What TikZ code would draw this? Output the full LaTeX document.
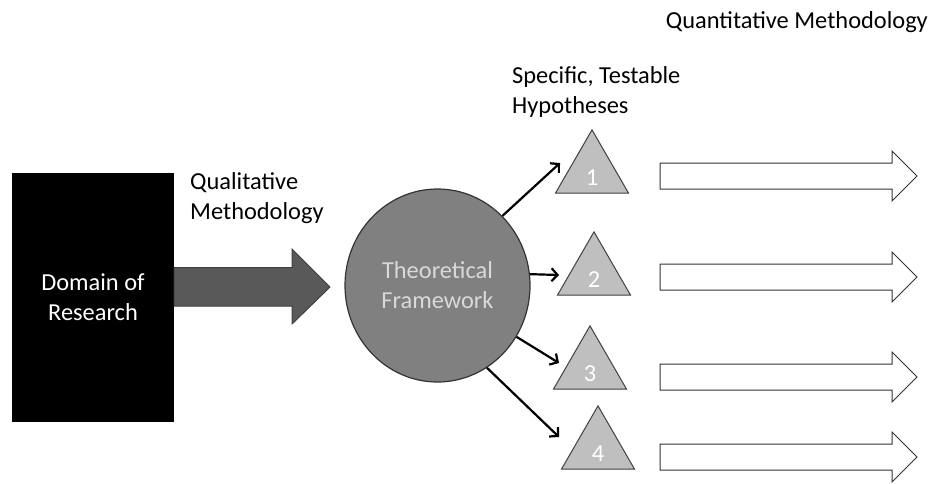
\documentclass[tikz,border=0pt]{standalone}
\usepackage{fontspec}
\setmainfont{Carlito}
\usetikzlibrary{positioning,shapes.geometric,arrows.meta,calc}

\begin{document}
\begin{tikzpicture}[x=1pt,y=-1pt]
		\tikzstyle{every node}+=[inner sep=0pt, font=\fontsize{24.4}{29.8}\selectfont]
		\tikzstyle{hyp}=[regular polygon, regular polygon sides=3, minimum size=84.3pt, draw=black!75, line width=1pt, fill=black!25, text=white, text height=26pt, text depth=0pt]
		\tikzstyle{link}=[line width=2.2pt, -{Straight Barb[length=6pt,width=13pt,line width=2.2pt]}]
		\tikzstyle{hollow}=[draw=black!80, line width=1pt, fill=white]
		\useasboundingbox (0,0) rectangle (932,483);
		\node [fill=black, text=white, minimum width=162pt, minimum height=249pt, align=center] (domain) at (93,297.5) {Domain of\\Research};
		\node [ellipse, draw=black!80, line width=1.2pt, fill=black!50, text=black!15, minimum width=185pt, minimum height=193pt, align=center] (frame) at (437.5,285.5) {Theoretical\\Framework};
		\node [anchor=west, align=left] (qual) at (190,198) {Qualitative\\Methodology};
		\node [anchor=west, align=left] (spec) at (512,92) {Specific, Testable\\Hypotheses};
		\node [anchor=base east] (quant) at (928,28) {Quantitative Methodology};
		\node [hyp] (h1) at (592,172) {1};
		\node [hyp] (h2) at (594,274) {2};
		\node [hyp] (h3) at (590,368) {3};
		\node [hyp] (h4) at (598,448) {4};
		\coordinate (e1) at (560,163);
		\coordinate (e2) at (559,275);
		\coordinate (e3) at (559,363);
		\coordinate (e4) at (559,437);
		\draw [fill=black!65, draw=black!75, line width=1pt] ($(domain.east)+(0,-30)$) -- (292,267.5) -- (292,249) -- (330,287) -- (292,324) -- (292,306) -- ($(domain.east)+(0,8.5)$) -- cycle;
		\draw [link] (frame.47) -- (e1);
		\draw [link] (frame.7) -- (e2);
		\draw [link] (frame.-33) -- (e3);
		\draw [link] (frame.-59) -- (e4);
		\foreach \y in {176,277,377,457}
			\draw [hollow] (660,\y-13) -- (892,\y-13) -- (892,\y-25) -- (917,\y) -- (892,\y+25) -- (892,\y+13) -- (660,\y+13) -- cycle;
\end{tikzpicture}
\end{document}
